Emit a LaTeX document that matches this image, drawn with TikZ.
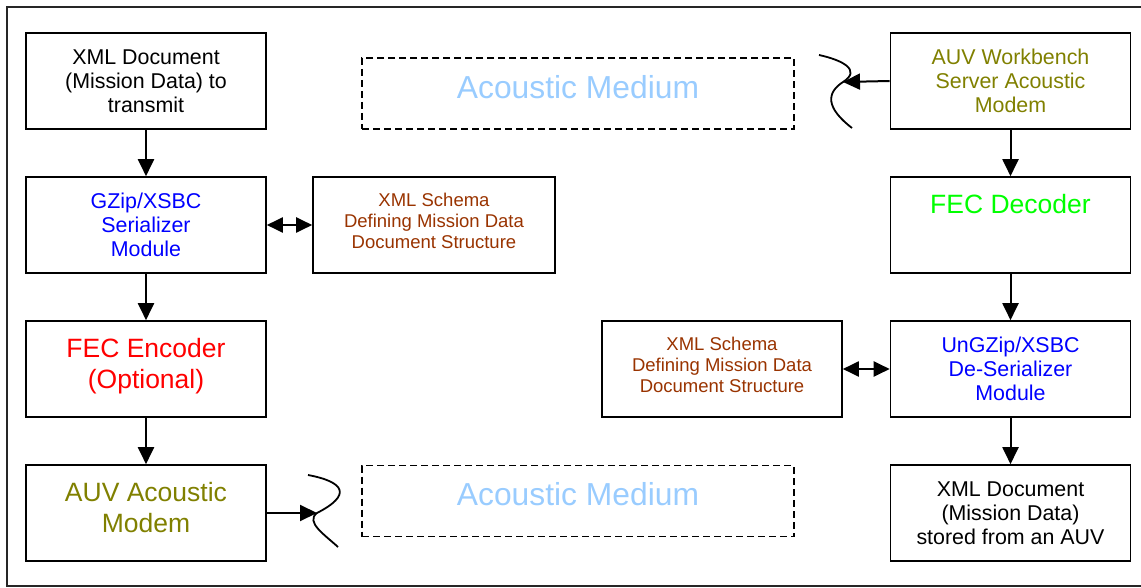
\documentclass[tikz,border=0pt]{standalone}
\usepackage{fontspec}
\setmainfont{Liberation Sans}
\usetikzlibrary{arrows.meta, positioning}
\definecolor{serblue}{RGB}{0,0,255}
\definecolor{encred}{RGB}{255,0,0}
\definecolor{decgreen}{RGB}{0,255,0}
\definecolor{modemolive}{RGB}{128,128,0}
\definecolor{schemabrown}{RGB}{153,51,0}
\definecolor{mediumblue}{RGB}{153,204,255}

\begin{document}
\begin{tikzpicture}[x=1pt, y=-1pt,
    block/.style={draw, line width=1.6pt, minimum width=240pt, minimum height=96pt,
        inner sep=2pt, align=center, font=\fontsize{21.4}{24}\selectfont},
    bigtext/.style={font=\fontsize{26.5}{31}\selectfont, text depth=11pt},
    schemabox/.style={block, minimum width=242pt, text=schemabrown,
        font=\fontsize{18.5}{21}\selectfont, text depth=9pt},
    medium/.style={draw, dash pattern=on 7pt off 4pt, line width=1.6pt,
        minimum width=432pt, minimum height=71pt, text=mediumblue,
        font=\fontsize{31.8}{36}\selectfont, text depth=14pt},
    flow/.style={line width=2pt, -{Triangle[length=17pt, width=16pt]}},
    twoway/.style={line width=2pt,
        {Triangle[length=16pt, width=15pt]}-{Triangle[length=16pt, width=15pt]}},
    wave/.style={line width=1.8pt}]
    \useasboundingbox (0,0) rectangle (1141,588);
    % outer frame
    \draw[line width=1.6pt, black!85] (7,7) rectangle (1150,586);

    % sending side
    \node[block] (xmlin) at (146,81) {XML Document\\(Mission Data) to\\transmit};
    \node[block, text=serblue] (serial) at (146,225) {GZip/XSBC\\Serializer\\Module};
    \node[block, bigtext, text=encred] (fecenc) at (146,369) {FEC Encoder\\(Optional)};
    \node[block, bigtext, text=modemolive] (auvmodem) at (146,513) {AUV Acoustic\\Modem};
    \node[schemabox] (schemaA) at (434,225) {XML Schema\\Defining Mission Data\\Document Structure};

    % receiving side
    \node[block, text=modemolive] (wbmodem) at (1010.5,81) {AUV Workbench\\Server Acoustic\\Modem};
    \node[block, font=\fontsize{26.5}{31}\selectfont, text depth=42pt, text=decgreen] (fecdec) at (1010.5,225) {FEC Decoder};
    \node[block, text=serblue] (deserial) at (1010.5,369) {UnGZip/XSBC\\De-Serializer\\Module};
    \node[block] (xmlout) at (1010.5,513) {XML Document\\(Mission Data)\\stored from an AUV};
    \node[schemabox, minimum width=240pt] (schemaB) at (722,369) {XML Schema\\Defining Mission Data\\Document Structure};

    % acoustic medium
    \node[medium] (mediumtop) at (578,93.5) {Acoustic Medium};
    \node[medium] (mediumbot) at (578,501) {Acoustic Medium};

    % waves
    \coordinate (wavetop) at (843,82);
    \coordinate (wavebot) at (317,513);
    \draw[wave] (819,55) .. controls (842,60) and (862,70) .. (wavetop)
        .. controls (826,93) and (826,108) .. (852,128);
    \draw[wave] (308,475) .. controls (345,482) and (352,495) .. (wavebot)
        .. controls (305,522) and (325,535) .. (338,547);

    % connectors
    \draw[flow] (xmlin) -- (serial);
    \draw[flow] (serial) -- (fecenc);
    \draw[flow] (fecenc) -- (auvmodem);
    \draw[flow] (auvmodem.east) -- (wavebot);
    \draw[twoway] (serial) -- (schemaA);
    \draw[flow] (wbmodem.west) -- (wavetop);
    \draw[flow] (wbmodem) -- (fecdec);
    \draw[flow] (fecdec) -- (deserial);
    \draw[flow] (deserial) -- (xmlout);
    \draw[twoway] (schemaB) -- (deserial);
\end{tikzpicture}
\end{document}
